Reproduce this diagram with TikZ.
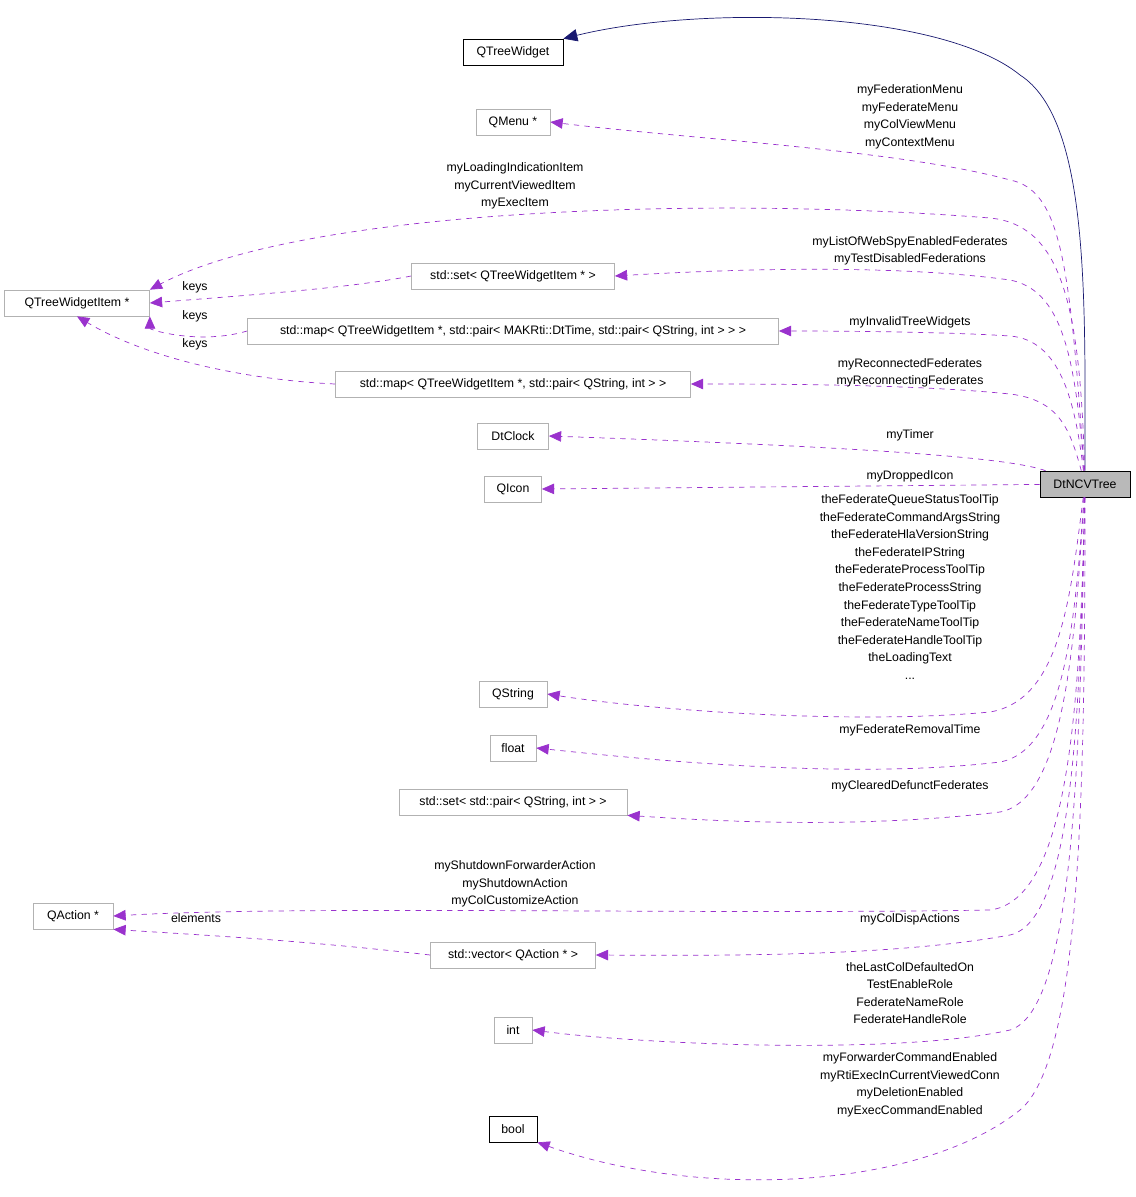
\documentclass[tikz,border=0pt]{standalone}
\usepackage{fontspec}
\setmainfont{Liberation Sans}
\usetikzlibrary{arrows.meta, positioning, calc}

\definecolor{depcol}{HTML}{9A32CD}
\definecolor{inhcol}{HTML}{191970}

\tikzset{
  cls/.style={draw=gray!60, rectangle, minimum height=26*0.02cm, inner sep=2pt, font=\fontsize{7}{10}\selectfont},
  blk/.style={cls, draw=black},
  dep/.style={depcol, dashed, -{Triangle[length=7pt, width=6pt]}},
  inh/.style={inhcol, -{Triangle[length=8pt, width=7pt]}},
  lbl/.style={align=center, font=\fontsize{7}{10}\selectfont, inner sep=0pt}
}

\begin{document}
\begin{tikzpicture}[x=0.02cm, y=-0.02cm]
  \useasboundingbox (0,0) rectangle (1136,1197);

  % classes
  \node (tree) [blk, fill=gray!55, minimum width=90*0.02cm] at (1085,484) {DtNCVTree};
  \node (qtw) [blk, minimum width=100*0.02cm] at (513,52) {QTreeWidget};
  \node (menu) [cls, minimum width=74*0.02cm] at (513,122) {QMenu *};
  \node (item) [cls, minimum width=145*0.02cm] at (77,303) {QTreeWidgetItem *};
  \node (set1) [cls, minimum width=203*0.02cm] at (513,276) {std::set< QTreeWidgetItem * >};
  \node (map1) [cls, minimum width=531*0.02cm] at (513,331) {std::map< QTreeWidgetItem *, std::pair< MAKRti::DtTime, std::pair< QString, int > > >};
  \node (map2) [cls, minimum width=355*0.02cm] at (513,384) {std::map< QTreeWidgetItem *, std::pair< QString, int > >};
  \node (clock) [cls, minimum width=71*0.02cm] at (513,436) {DtClock};
  \node (icon) [cls, minimum width=57*0.02cm] at (513,489) {QIcon};
  \node (str) [cls, minimum width=68*0.02cm] at (513,694) {QString};
  \node (flt) [cls, minimum width=46*0.02cm] at (513,748) {float};
  \node (set2) [cls, minimum width=228*0.02cm] at (513,802) {std::set< std::pair< QString, int > >};
  \node (act) [cls, minimum width=80*0.02cm] at (73,916) {QAction *};
  \node (vec) [cls, minimum width=165*0.02cm] at (513,955) {std::vector< QAction * >};
  \node (int) [cls, minimum width=38*0.02cm] at (513,1030) {int};
  \node (bool) [blk, minimum width=48*0.02cm] at (513,1129) {bool};

  % inheritance
  \draw[inh] (tree.north) .. controls (1085,300) and (1090,120) .. (1020,75) .. controls (940,10) and (700,5) .. (qtw.north east);

  % members
  \draw[dep] (tree) .. controls (1070,260) and (1060,190) .. (1010,180) .. controls (900,150) and (700,140) .. (menu.east);
  \node[lbl] at (910,117) {myFederationMenu\\myFederateMenu\\myColViewMenu\\myContextMenu};
  \draw[dep] (tree) .. controls (1080,300) and (1060,225) .. (990,218) .. controls (700,195) and (300,210) .. (item.north east);
  \node[lbl] at (515,186) {myLoadingIndicationItem\\myCurrentViewedItem\\myExecItem};
  \draw[dep] (tree) .. controls (1075,350) and (1060,290) .. (1010,280) .. controls (900,265) and (750,268) .. (set1.east);
  \node[lbl] at (910,251) {myListOfWebSpyEnabledFederates\\myTestDisabledFederations};
  \draw[dep] (tree) .. controls (1075,400) and (1060,340) .. (1010,336) .. controls (950,332) and (850,331) .. (map1.east);
  \node[lbl] at (910,322) {myInvalidTreeWidgets};
  \draw[dep] (tree) .. controls (1070,430) and (1060,400) .. (1010,394) .. controls (920,385) and (800,384) .. (map2.east);
  \node[lbl] at (910,373) {myReconnectedFederates\\myReconnectingFederates};
  \draw[dep] (tree) .. controls (1020,462) and (950,450) .. (clock.east);
  \node[lbl] at (910,435) {myTimer};
  \draw[dep] (tree) -- (icon.east);
  \node[lbl] at (910,476) {myDroppedIcon};
  \draw[dep] (tree) .. controls (1070,600) and (1060,700) .. (990,712) .. controls (850,725) and (650,710) .. (str.east);
  \node[lbl] at (910,587) {theFederateQueueStatusToolTip\\theFederateCommandArgsString\\theFederateHlaVersionString\\theFederateIPString\\theFederateProcessToolTip\\theFederateProcessString\\theFederateTypeToolTip\\theFederateNameToolTip\\theFederateHandleToolTip\\theLoadingText\\...};
  \draw[dep] (tree) .. controls (1075,620) and (1065,750) .. (1000,762) .. controls (850,780) and (650,760) .. (flt.east);
  \node[lbl] at (910,730) {myFederateRemovalTime};
  \draw[dep] (tree) .. controls (1075,640) and (1065,800) .. (1000,812) .. controls (850,830) and (700,820) .. (set2.south east);
  \node[lbl] at (910,786) {myClearedDefunctFederates};
  \draw[dep] (tree) .. controls (1080,700) and (1070,900) .. (990,910) .. controls (700,915) and (300,905) .. (act.east);
  \node[lbl] at (515,884) {myShutdownForwarderAction\\myShutdownAction\\myColCustomizeAction};
  \draw[dep] (tree) .. controls (1080,700) and (1075,920) .. (1010,935) .. controls (900,955) and (750,956) .. (vec.east);
  \node[lbl] at (910,919) {myColDispActions};
  \draw[dep] (tree) .. controls (1080,750) and (1075,1010) .. (1010,1030) .. controls (900,1055) and (650,1045) .. (int.east);
  \node[lbl] at (910,993) {theLastColDefaultedOn\\TestEnableRole\\FederateNameRole\\FederateHandleRole};
  \draw[dep] (tree) .. controls (1085,800) and (1080,1060) .. (1020,1110) .. controls (920,1190) and (700,1200) .. (bool.south east);
  \node[lbl] at (910,1085) {myForwarderCommandEnabled\\myRtiExecInCurrentViewedConn\\myDeletionEnabled\\myExecCommandEnabled};

  % keys and elements
  \draw[dep] (set1.west) .. controls (350,288) and (250,295) .. (item.east);
  \node[lbl] at (195,287) {keys};
  \draw[dep] (map1.west) .. controls (200,345) and (150,330) .. (item.south east);
  \node[lbl] at (195,316) {keys};
  \draw[dep] (map2.west) .. controls (250,380) and (150,360) .. (item.south);
  \node[lbl] at (195,344) {keys};
  \draw[dep] (vec.west) .. controls (300,940) and (200,935) .. (act.south east);
  \node[lbl] at (196,918) {elements};
\end{tikzpicture}
\end{document}
